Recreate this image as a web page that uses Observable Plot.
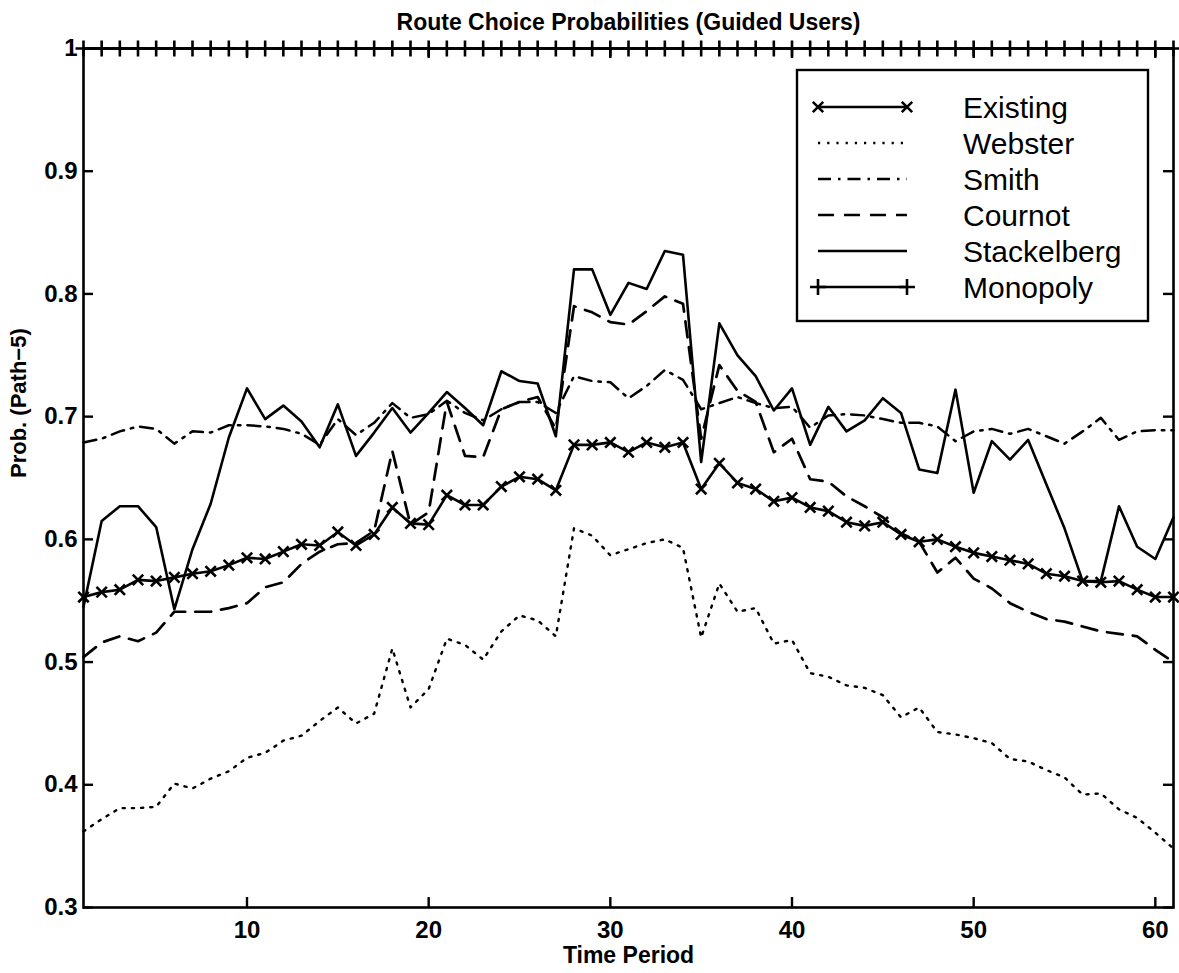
<!DOCTYPE html>
<html>
<head>
<meta charset="utf-8">
<script src="https://cdn.jsdelivr.net/npm/d3@7"></script>
<script src="https://cdn.jsdelivr.net/npm/@observablehq/plot@0.6"></script>
<style>
  html, body { margin: 0; padding: 0; background: #fff; }
  #chart svg { display: block; }
</style>
</head>
<body>
<div id="chart"></div>
<script>
// Time periods 1..61
const periods = d3.range(1, 62);

// Route choice probabilities for path 5 (guided users), one value per period
const existing = [0.553,0.557,0.559,0.567,0.566,0.569,0.572,0.574,0.579,0.585,
  0.584,0.590,0.596,0.595,0.606,0.595,0.604,0.626,0.613,0.612,
  0.636,0.628,0.628,0.643,0.651,0.649,0.640,0.677,0.677,0.679,
  0.671,0.679,0.675,0.679,0.641,0.662,0.646,0.641,0.631,0.634,
  0.626,0.623,0.614,0.611,0.614,0.604,0.598,0.600,0.594,0.589,
  0.586,0.583,0.580,0.572,0.570,0.566,0.565,0.566,0.559,0.553,0.553];

const webster = [0.362,0.372,0.381,0.381,0.382,0.401,0.397,0.405,0.411,0.422,
  0.426,0.436,0.440,0.452,0.463,0.450,0.458,0.511,0.463,0.478,
  0.519,0.514,0.502,0.525,0.538,0.534,0.521,0.609,0.603,0.587,
  0.592,0.597,0.600,0.593,0.520,0.564,0.541,0.544,0.515,0.518,
  0.491,0.488,0.481,0.479,0.473,0.455,0.463,0.443,0.441,0.438,
  0.434,0.421,0.419,0.412,0.406,0.392,0.393,0.380,0.373,0.361,0.348];

const smith = [0.679,0.682,0.688,0.692,0.690,0.678,0.688,0.687,0.693,0.693,
  0.692,0.690,0.686,0.677,0.698,0.685,0.695,0.711,0.699,0.702,
  0.713,0.703,0.697,0.706,0.712,0.712,0.703,0.733,0.729,0.728,
  0.715,0.725,0.738,0.730,0.706,0.711,0.716,0.711,0.707,0.708,
  0.691,0.701,0.702,0.701,0.698,0.695,0.695,0.692,0.680,0.688,
  0.690,0.686,0.690,0.684,0.678,0.688,0.699,0.681,0.688,0.689,0.689];

const cournot = [0.504,0.516,0.521,0.517,0.524,0.541,0.541,0.541,0.544,0.548,
  0.561,0.565,0.580,0.590,0.596,0.597,0.607,0.672,0.612,0.622,
  0.712,0.668,0.667,0.706,0.712,0.716,0.690,0.790,0.785,0.777,
  0.775,0.786,0.798,0.792,0.682,0.742,0.721,0.712,0.671,0.682,
  0.649,0.647,0.635,0.627,0.618,0.605,0.598,0.573,0.585,0.568,
  0.560,0.548,0.541,0.535,0.533,0.529,0.525,0.523,0.521,0.510,0.500];

const stackelberg = [0.545,0.615,0.627,0.627,0.610,0.543,0.592,0.629,0.683,0.723,
  0.698,0.709,0.696,0.675,0.710,0.668,0.687,0.707,0.687,0.703,
  0.720,0.707,0.693,0.737,0.729,0.727,0.684,0.820,0.820,0.783,
  0.809,0.804,0.835,0.832,0.663,0.776,0.750,0.733,0.705,0.723,
  0.677,0.708,0.688,0.697,0.715,0.703,0.657,0.654,0.722,0.638,
  0.680,0.665,0.681,0.645,0.609,0.566,0.566,0.627,0.594,0.584,0.618];

const monopoly = periods.map(() => 1);

const seriesNames = ["Existing", "Webster", "Smith", "Cournot", "Stackelberg", "Monopoly"];
const xTicks = [10, 20, 30, 40, 50, 60];
const yTicks = [0.3, 0.4, 0.5, 0.6, 0.7, 0.8, 0.9, 1];

const titleText = "Route Choice Probabilities (Guided Users)";
const xLabel = "Time Period";
const yLabel = "Prob. (Path\u22125)";

const rows = (vals) => vals.map((v, i) => ({t: periods[i], v}));

// Plot geometry
const W = 1179, H = 973;
const mL = 83, mR = 6, mT = 48, mB = 66;
const innerW = W - mL - mR, innerH = H - mT - mB;
const tickLen = 10;
const font = "'Liberation Sans', Arial, Helvetica, sans-serif";

// Line styles per series
const styles = {
  Existing:    {dash: null,        width: 2.6},
  Webster:     {dash: "2.2,7",     width: 2.4},
  Smith:       {dash: "13,7,2.5,7", width: 2.5},
  Cournot:     {dash: "16,10",     width: 2.7},
  Stackelberg: {dash: null,        width: 2.6},
  Monopoly:    {dash: null,        width: 2.6}
};

const line = (vals, name) => Plot.lineY(rows(vals), {
  x: "t", y: "v", stroke: "black",
  strokeWidth: styles[name].width,
  strokeDasharray: styles[name].dash || undefined,
  strokeLinejoin: "round"
});

const chart = Plot.plot({
  width: W, height: H,
  marginLeft: mL, marginRight: mR, marginTop: mT, marginBottom: mB,
  x: {domain: [1, 61]},
  y: {domain: [0.3, 1]},
  style: {fontFamily: font, background: "white", color: "black"},
  marks: [
    line(webster, "Webster"),
    line(smith, "Smith"),
    line(cournot, "Cournot"),
    line(stackelberg, "Stackelberg"),
    line(existing, "Existing"),
    Plot.dot(rows(existing), {x: "t", y: "v", symbol: "times", r: 4.8, stroke: "black", fill: "none", strokeWidth: 2.6}),
    line(monopoly, "Monopoly"),
    Plot.dot(rows(monopoly), {x: "t", y: "v", symbol: "plus", r: 5.2, stroke: "black", fill: "none", strokeWidth: 2.6}),
    Plot.frame({stroke: "black", strokeWidth: 2.6}),
    // inward tick marks on all four sides
    Plot.tickX(xTicks, {x: d => d, insetTop: innerH - tickLen, stroke: "black", strokeWidth: 2.4}),
    Plot.tickX(xTicks, {x: d => d, insetBottom: innerH - tickLen, stroke: "black", strokeWidth: 2.4}),
    Plot.tickY(yTicks, {y: d => d, insetRight: innerW - tickLen, stroke: "black", strokeWidth: 2.4}),
    Plot.tickY(yTicks, {y: d => d, insetLeft: innerW - tickLen, stroke: "black", strokeWidth: 2.4}),
    Plot.axisX({ticks: xTicks, tickSize: 0, tickPadding: 13, label: null, fontSize: 24, fontWeight: "bold"}),
    Plot.axisY({ticks: yTicks, tickSize: 0, tickPadding: 6, label: null, fontSize: 24, fontWeight: "bold",
      tickFormat: d => (d === 1 ? "1" : d.toFixed(1))}),
    Plot.text([titleText], {frameAnchor: "top", dy: -26, lineAnchor: "middle", fontSize: 23, fontWeight: "bold", fill: "black"}),
    Plot.text([xLabel], {frameAnchor: "bottom", dy: 48, lineAnchor: "middle", fontSize: 23, fontWeight: "bold", fill: "black"}),
    Plot.text([yLabel], {frameAnchor: "left", dx: -65, rotate: -90, lineAnchor: "middle", fontSize: 22, fontWeight: "bold", fill: "black"})
  ]
});

document.getElementById("chart").append(chart);

// Legend box in the upper-right corner of the plot area
const svg = d3.select(chart);
const lg = svg.append("g").attr("class", "legend");
const box = {x: 797, y: 70, w: 351, h: 251};
lg.append("rect").attr("x", box.x).attr("y", box.y).attr("width", box.w).attr("height", box.h)
  .attr("fill", "white").attr("stroke", "black").attr("stroke-width", 2.4);

const sx1 = 818, sx2 = 907, textX = 963, row0 = 107, rowStep = 36;
seriesNames.forEach((name, i) => {
  const cy = row0 + i * rowStep;
  const s = styles[name];
  lg.append("line").attr("x1", sx1).attr("x2", sx2).attr("y1", cy).attr("y2", cy)
    .attr("stroke", "black").attr("stroke-width", s.width)
    .attr("stroke-dasharray", s.dash);
  if (name === "Existing" || name === "Monopoly") {
    const sym = d3.symbol().type(name === "Existing" ? d3.symbolTimes : d3.symbolPlus)
      .size(name === "Existing" ? 4.8 * 4.8 * Math.PI : 5.2 * 5.2 * Math.PI);
    [sx1, sx2].forEach(px => {
      lg.append("path").attr("d", sym()).attr("transform", `translate(${px},${cy})`)
        .attr("fill", "none").attr("stroke", "black").attr("stroke-width", 2.6);
    });
  }
  lg.append("text").attr("x", textX).attr("y", cy).attr("dy", "0.36em")
    .attr("text-anchor", "start")
    .attr("font-family", font).attr("font-size", 30).attr("fill", "black")
    .text(name);
});
</script>
</body>
</html>
